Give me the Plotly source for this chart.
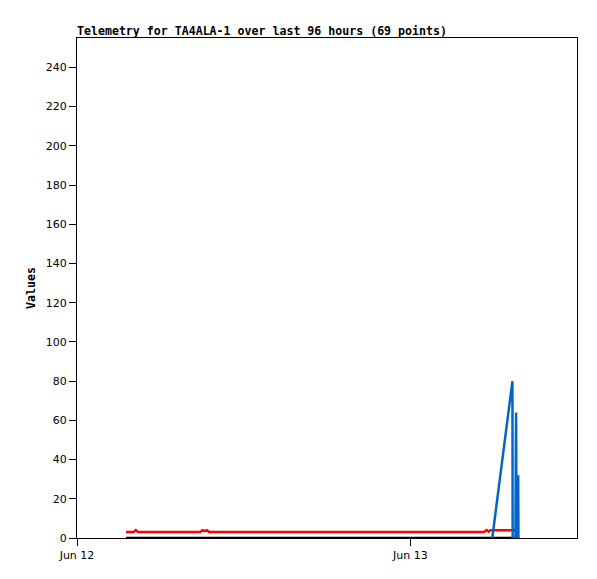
import plotly.graph_objects as go

# Red series (values ~3-4)
red_times = ["2024-06-12 03:32", "2024-06-12 04:04", "2024-06-12 04:14", "2024-06-12 04:24",
             "2024-06-12 08:52", "2024-06-12 09:02", "2024-06-12 09:12", "2024-06-12 09:22", "2024-06-12 09:30",
             "2024-06-13 05:16", "2024-06-13 05:30", "2024-06-13 05:38", "2024-06-13 05:46", "2024-06-13 07:49"]
red_values = [3, 3, 4, 3,
              3, 4, 3.5, 4, 3,
              3, 4, 3.2, 4, 4]

# Black series (zero)
black_times = ["2024-06-12 03:32", "2024-06-13 07:50"]
black_values = [0, 0]

# Blue series
blue_times = ["2024-06-13 05:54", "2024-06-13 07:21", "2024-06-13 07:22", "2024-06-13 07:34",
              "2024-06-13 07:36", "2024-06-13 07:37", "2024-06-13 07:38", "2024-06-13 07:44",
              "2024-06-13 07:46", "2024-06-13 07:47"]
blue_values = [0, 80, 0, 0, 48, 64, 16, 0, 32, 0]

x_tickvals = ["2024-06-12 00:00", "2024-06-13 00:00"]
x_ticktext = ["Jun 12", "Jun 13"]
y_tickvals = list(range(0, 241, 20))

W, H = 589, 571

fig = go.Figure()
fig.add_trace(go.Scatter(x=black_times, y=black_values, mode="lines",
                         line=dict(color="#000000", width=2.5), showlegend=False))
fig.add_trace(go.Scatter(x=red_times, y=red_values, mode="lines",
                         line=dict(color="#ff0000", width=2.5), showlegend=False))
fig.add_trace(go.Scatter(x=blue_times, y=blue_values, mode="lines",
                         line=dict(color="#0066cc", width=2.5), showlegend=False))

fig.update_layout(
    width=W, height=H,
    margin=dict(l=69, r=20, t=30, b=41),
    paper_bgcolor="white", plot_bgcolor="white",
    title=dict(text="<b>Telemetry for TA4ALA-1 over last 96 hours (69 points)</b>",
               x=69/W, xanchor="left", y=1-23/H, yanchor="middle",
               font=dict(family="DejaVu Sans Mono", size=11.6, color="black")),
    xaxis=dict(range=["2024-06-12 00:00", "2024-06-13 12:00"],
               tickvals=x_tickvals, ticktext=x_ticktext,
               showgrid=False, zeroline=False, showline=True, linecolor="black", linewidth=1,
               mirror=True, ticks="outside", ticklen=7, tickcolor="black",
               tickfont=dict(family="DejaVu Sans", size=11, color="black")),
    yaxis=dict(range=[0, 255], tickvals=y_tickvals,
               showgrid=False, zeroline=False, showline=True, linecolor="black", linewidth=1,
               mirror=True, ticks="outside", ticklen=7, tickcolor="black",
               tickfont=dict(family="DejaVu Sans", size=11, color="black"),
               title=dict(text="<b>Values</b>", standoff=7,
                          font=dict(family="DejaVu Sans Mono", size=11.6, color="black"))),
)

fig.write_html("out.html")
